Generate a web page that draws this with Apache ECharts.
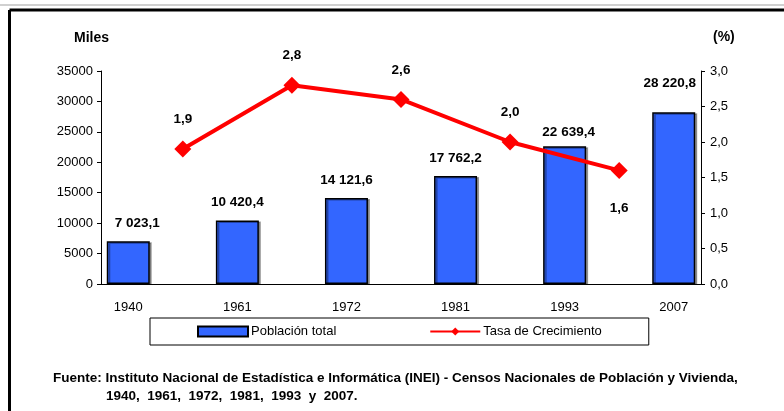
<!doctype html>
<html>
<head>
<meta charset="utf-8">
<title>Población total y tasa de crecimiento</title>
<style>
  html, body { margin: 0; padding: 0; background: #fff; }
  #main { width: 784px; height: 411px; }
</style>
</head>
<body>
<div id="main"></div>
<script src="https://cdn.jsdelivr.net/npm/echarts@6/dist/echarts.min.js"></script>
<script>
var years = ['1940', '1961', '1972', '1981', '1993', '2007'];
var poblacion = [7023.1, 10420.4, 14121.6, 17762.2, 22639.4, 28220.8];
var tasa = [1.9, 2.8, 2.6, 2.0, 1.6];
var leftTicks = [0, 35000, 5000];
var rightTicks = [0, 3, 0.5];

var FONT = '"Liberation Sans Narrow", "Liberation Sans", Arial, sans-serif';

// 11 slots: censuses on even slots, growth rates between them
var slots = [], barData = [], lineData = [];
years.forEach(function (y, i) {
    slots.push(y);
    barData.push(poblacion[i]);
    lineData.push(null);
    if (i < tasa.length) {
        slots.push('');
        barData.push(null);
        lineData.push(tasa[i]);
    }
});

function miles(v) {
    var p = v.toFixed(1).split('.');
    return p[0].replace(/\B(?=(\d{3})+(?!\d))/g, ' ') + ',' + p[1];
}

var barItems = barData.map(function (v, i) {
    if (v == null) return null;
    var item = { value: v };
    if (i === 0) item.label = { offset: [9, 0] };
    if (i === 10) item.label = { offset: [-4, -11] };
    if (i === 8) item.label = { offset: [4, 4] };
    return item;
});
var lineItems = lineData.map(function (v, i) {
    if (v == null) return null;
    var item = { value: v };
    if (i === 9) item.label = { position: 'bottom', distance: 22 };
    return item;
});

var chart = echarts.init(document.getElementById('main'));
chart.setOption({
    backgroundColor: '#fff',
    animation: false,
    grid: { left: 101, right: 83, top: 71, bottom: 127 },
    legend: {
        left: 150, top: 318,
        padding: [7, 47, 7, 47],
        itemWidth: 50, itemHeight: 10, itemGap: 93,
        borderColor: '#000', borderWidth: 1,
        textStyle: { fontFamily: FONT, fontSize: 13, color: '#000', padding: [0, 0, 0, -2] },
        data: [{ name: 'Población total', icon: 'rect' }, { name: 'Tasa de Crecimiento' }]
    },
    xAxis: {
        type: 'category',
        data: slots,
        axisLine: { lineStyle: { color: '#000', width: 1 } },
        axisTick: { interval: 0, length: 5, lineStyle: { color: '#000' } },
        axisLabel: { interval: 0, margin: 17, fontFamily: FONT, fontSize: 13, color: '#000' }
    },
    yAxis: [{
        type: 'value',
        min: leftTicks[0], max: leftTicks[1], interval: leftTicks[2],
        splitLine: { show: false },
        axisLine: { show: true, lineStyle: { color: '#000' } },
        axisTick: { show: true, length: 4, lineStyle: { color: '#000' } },
        axisLabel: {
            margin: 8, fontFamily: FONT, fontSize: 13, color: '#000',
            formatter: function (v) { return String(v); }
        }
    }, {
        type: 'value',
        min: rightTicks[0], max: rightTicks[1], interval: rightTicks[2],
        splitLine: { show: false },
        axisLine: { show: true, lineStyle: { color: '#000' } },
        axisTick: { show: true, length: 4, lineStyle: { color: '#000' } },
        axisLabel: {
            margin: 9, fontFamily: FONT, fontSize: 13, color: '#000',
            formatter: function (v) { return v.toFixed(1).replace('.', ','); }
        }
    }],
    series: [{
        name: 'Población total',
        type: 'bar',
        barWidth: 43,
        data: barItems,
        itemStyle: {
            color: '#3366ff', borderColor: '#000', borderWidth: 1.5,
            shadowColor: 'rgba(0,0,0,0.35)', shadowOffsetX: 2, shadowOffsetY: 1
        },
        label: {
            show: true, position: 'top', distance: 11,
            fontFamily: FONT, fontSize: 13.5, fontWeight: 'bold', color: '#000',
            formatter: function (p) { return miles(p.value); }
        }
    }, {
        name: 'Tasa de Crecimiento',
        type: 'line',
        yAxisIndex: 1,
        connectNulls: true,
        data: lineItems,
        symbol: 'diamond',
        symbolSize: 17,
        lineStyle: { color: '#ff0000', width: 4 },
        itemStyle: { color: '#ff0000' },
        label: {
            show: true, position: 'top', distance: 14,
            fontFamily: FONT, fontSize: 13.5, fontWeight: 'bold', color: '#000',
            formatter: function (p) { return p.value.toFixed(1).replace('.', ','); }
        },
        z: 3
    }],
    graphic: [
        { type: 'line', shape: { x1: 0, y1: 5, x2: 784, y2: 5 }, style: { stroke: '#d0d0d0', lineWidth: 2 } },
        { type: 'line', shape: { x1: 9.5, y1: 10, x2: 784, y2: 10 }, style: { stroke: '#000', lineWidth: 3 } },
        { type: 'line', shape: { x1: 9.5, y1: 10, x2: 9.5, y2: 411 }, style: { stroke: '#000', lineWidth: 3 } },
        { type: 'text', left: 74, top: 31, style: { text: 'Miles', fontFamily: FONT, fontSize: 14, fontWeight: 'bold', fill: '#000' } },
        { type: 'text', left: 713, top: 30, style: { text: '(%)', fontFamily: FONT, fontSize: 14, fontWeight: 'bold', fill: '#000' } },
        { type: 'text', left: 53, top: 371, style: {
            text: 'Fuente: Instituto Nacional de Estadística e Informática (INEI) - Censos Nacionales de Población y Vivienda,',
            fontFamily: FONT, fontSize: 13.5, fontWeight: 'bold', fill: '#000' } },
        { type: 'text', left: 106, top: 389, style: {
            text: '1940,  1961,  1972,  1981,  1993  y  2007.',
            fontFamily: FONT, fontSize: 13.5, fontWeight: 'bold', fill: '#000' } }
    ]
});
window.onresize = chart.resize;
</script>
</body>
</html>
